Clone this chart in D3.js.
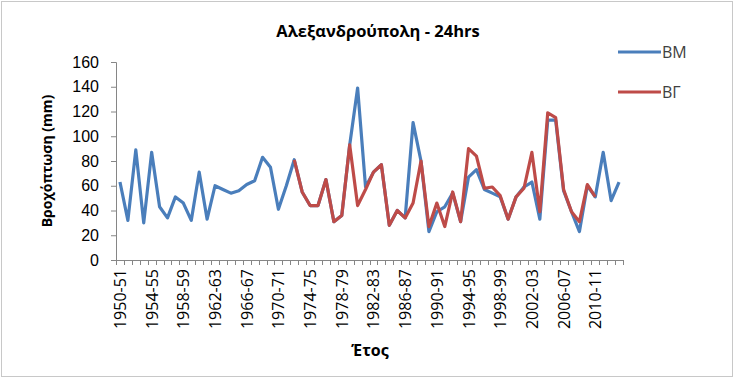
<!DOCTYPE html>
<html>
<head>
<meta charset="utf-8">
<script src="https://cdn.jsdelivr.net/npm/d3@7"></script>
<style>
  body { margin: 0; background: #fff; }
  svg { font-family: "Open Sans", "Noto Sans", sans-serif; }
</style>
</head>
<body>
<div id="chart"></div>
<script>
// categories (hydrological years)
const years = [
  "1950-51","1951-52","1952-53","1953-54","1954-55","1955-56","1956-57","1957-58",
  "1958-59","1959-60","1960-61","1961-62","1962-63","1963-64","1964-65","1965-66",
  "1966-67","1967-68","1968-69","1969-70","1970-71","1971-72","1972-73","1973-74",
  "1974-75","1975-76","1976-77","1977-78","1978-79","1979-80","1980-81","1981-82",
  "1982-83","1983-84","1984-85","1985-86","1986-87","1987-88","1988-89","1989-90",
  "1990-91","1991-92","1992-93","1993-94","1994-95","1995-96","1996-97","1997-98",
  "1998-99","1999-00","2000-01","2001-02","2002-03","2003-04","2004-05","2005-06",
  "2006-07","2007-08","2008-09","2009-10","2010-11","2011-12","2012-13","2013-14"
];

// ΒΜ series
const bm = [
  63, 32, 89, 30, 87, 43, 34, 51, 46, 32, 71, 33, 60, 57, 54, 56,
  61, 64, 83, 75, 41, 60, 81, 55, 44, 44, 65, 31, 36, 93, 139, 59,
  71, 77, 28, 40, 34, 111, 80, 23, 39, 43, 54, 31, 67, 73, 57, 54,
  51, 33, 51, 59, 63, 33, 113, 113, 56, 39, 23, 60, 51, 87, 48, 63
];

// ΒΓ series (starts 1972-73, ends 2010-11)
const bg = [
  null, null, null, null, null, null, null, null, null, null, null, null, null, null, null, null,
  null, null, null, null, null, null, 81, 55, 44, 44, 65, 31, 36, 93, 44, 57,
  71, 77, 28, 40, 34, 46, 80, 27, 46, 27, 55, 31, 90, 84, 58, 59,
  52, 33, 51, 58, 87, 39, 119, 115, 57, 39, 31, 61, 51, null, null, null
];

const yTicks = [0, 20, 40, 60, 80, 100, 120, 140, 160];
const labelEvery = 4;

const width = 735, height = 379;
const margin = { top: 62, right: 112, bottom: 119, left: 116 };

const svg = d3.select("#chart").append("svg")
  .attr("width", width)
  .attr("height", height);

// outer frame
svg.append("rect")
  .attr("x", 1.5).attr("y", 1.5)
  .attr("width", width - 4).attr("height", height - 4)
  .attr("fill", "none")
  .attr("stroke", "#c8c8c8");

const x = d3.scaleBand()
  .domain(years)
  .range([margin.left, width - margin.right])
  .padding(0);

const y = d3.scaleLinear()
  .domain([0, 160])
  .range([height - margin.bottom, margin.top]);

// y axis
const yAxis = svg.append("g")
  .attr("transform", `translate(${margin.left},0)`)
  .call(d3.axisLeft(y).tickValues(yTicks).tickSize(5).tickPadding(12));
yAxis.select(".domain").attr("stroke", "#868686");
yAxis.selectAll(".tick line").attr("stroke", "#868686");
yAxis.selectAll(".tick text")
  .attr("font-size", 16)
  .attr("fill", "#000");

// x axis: ticks between categories, labels every 4th
const xAxisG = svg.append("g")
  .attr("transform", `translate(0,${y(0)})`);
xAxisG.append("line")
  .attr("x1", margin.left).attr("x2", width - margin.right)
  .attr("y1", 0.5).attr("y2", 0.5)
  .attr("stroke", "#868686");
xAxisG.selectAll(".xtick")
  .data(years.concat(["end"]))
  .enter().append("line")
  .attr("class", "xtick")
  .attr("x1", (d, i) => Math.round(margin.left + i * x.bandwidth()) + 0.5)
  .attr("x2", (d, i) => Math.round(margin.left + i * x.bandwidth()) + 0.5)
  .attr("y1", 0).attr("y2", 5)
  .attr("stroke", "#868686");
xAxisG.selectAll(".xlabel")
  .data(years.filter((d, i) => i % labelEvery === 0))
  .enter().append("text")
  .attr("class", "xlabel")
  .attr("transform", d => `translate(${x(d) + x.bandwidth() / 2 + 6},9) rotate(-90)`)
  .attr("text-anchor", "end")
  .attr("font-size", 16)
  .attr("fill", "#000")
  .text(d => d);

// lines
const line = d3.line()
  .defined(d => d != null)
  .x((d, i) => x(years[i]) + x.bandwidth() / 2)
  .y(d => y(d));

svg.append("path")
  .datum(bm)
  .attr("d", line)
  .attr("fill", "none")
  .attr("stroke", "#4a7ebb")
  .attr("stroke-width", 3.2)
  .attr("stroke-linejoin", "round");

svg.append("path")
  .datum(bg)
  .attr("d", line)
  .attr("fill", "none")
  .attr("stroke", "#be4b48")
  .attr("stroke-width", 3.2)
  .attr("stroke-linejoin", "round");

// title
svg.append("text")
  .attr("x", 378).attr("y", 37)
  .attr("text-anchor", "middle")
  .attr("font-size", 16.5)
  .attr("font-weight", "bold")
  .text("Αλεξανδρούπολη - 24hrs");

// axis titles
svg.append("text")
  .attr("transform", `translate(52,${(margin.top + y(0)) / 2}) rotate(-90)`)
  .attr("text-anchor", "middle")
  .attr("font-size", 14)
  .attr("font-weight", "bold")
  .text("Βροχόπτωση (mm)");

svg.append("text")
  .attr("x", 370).attr("y", 356)
  .attr("text-anchor", "middle")
  .attr("font-size", 16)
  .attr("font-weight", "bold")
  .text("Έτος");

// legend
const legend = [
  { name: "ΒΜ", color: "#4a7ebb" },
  { name: "ΒΓ", color: "#be4b48" }
];
const lg = svg.selectAll(".legend")
  .data(legend)
  .enter().append("g")
  .attr("class", "legend")
  .attr("transform", (d, i) => `translate(618,${52 + i * 40})`);
lg.append("line")
  .attr("x1", 0).attr("x2", 43)
  .attr("y1", 0).attr("y2", 0)
  .attr("stroke", d => d.color)
  .attr("stroke-width", 3);
lg.append("text")
  .attr("x", 44).attr("y", 6)
  .attr("font-size", 16)
  .attr("fill", "#404040")
  .text(d => d.name);
</script>
</body>
</html>
